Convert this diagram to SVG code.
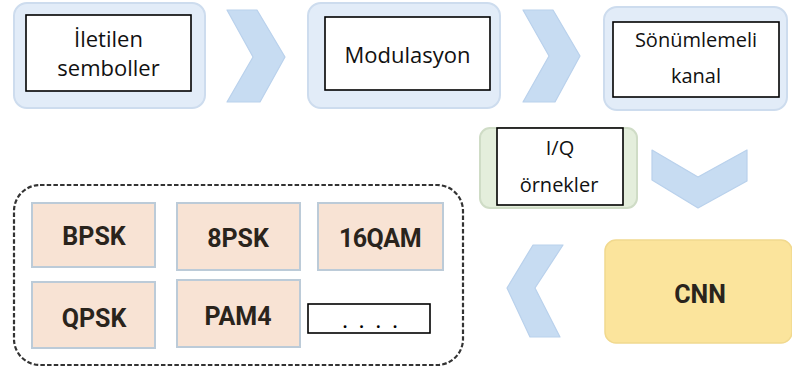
<svg xmlns="http://www.w3.org/2000/svg" width="792" height="372" viewBox="0 0 792 372">
  <style>
    .stage { fill: #e2ecf8; stroke: #cddcee; stroke-width: 2; }
    .stage-green { fill: #e4eedc; stroke: #cfdcc6; stroke-width: 2; }
    .label-box { fill: #ffffff; stroke: #000000; stroke-width: 1.6; }
    .label { font-family: "Open Sans", "Liberation Sans", sans-serif; fill: #111111; text-anchor: middle; }
    .chevron { fill: #c7dcf2; stroke: #b9d1ec; stroke-width: 1.2; stroke-linejoin: round; }
    .cls-box { fill: #f8e3d4; stroke: #bccbd8; stroke-width: 2; }
    .cls-text { font-family: Roboto, "Liberation Sans", sans-serif; font-weight: 700; font-size: 25px; fill: #2a241c; text-anchor: middle; }
    .group-frame { fill: none; stroke: #333333; stroke-width: 2.2; stroke-dasharray: 4.5 2.2; }
  </style>

  <rect width="792" height="372" fill="#ffffff"/>

  <!-- flow arrows between stages -->
  <g id="connectors">
    <polygon class="chevron" points="227,10 257,10 285,57 260,102 227,102 253,57"/>
    <polygon class="chevron" points="523,10 553,10 580,56 555,102 523,102 549,56"/>
    <polygon class="chevron" points="652,150 698,177 747,150 747,181 698,208 652,180"/>
    <polygon class="chevron" points="563,245 533,245 507,288 530,337 560,337 535,288"/>
  </g>

  <g id="symbols">
    <rect class="stage" x="14" y="3" width="191" height="105" rx="13"/>
    <rect class="label-box" x="26" y="15" width="165" height="76"/>
    <text class="label" x="108.5" y="47" font-size="22">İletilen</text>
    <text class="label" x="108.5" y="76" font-size="22">semboller</text>
  </g>

  <g id="modulation">
    <rect class="stage" x="308" y="3" width="192" height="105" rx="13"/>
    <rect class="label-box" x="325" y="17" width="165" height="73"/>
    <text class="label" x="407.5" y="63" font-size="22">Modulasyon</text>
  </g>

  <g id="channel">
    <rect class="stage" x="604" y="7" width="183" height="103" rx="13"/>
    <rect class="label-box" x="613" y="22" width="166" height="75"/>
    <text class="label" x="696" y="47" font-size="20">Sönümlemeli</text>
    <text class="label" x="696" y="83" font-size="20">kanal</text>
  </g>

  <g id="iq-samples">
    <rect class="stage-green" x="480" y="128" width="157" height="80" rx="10"/>
    <rect class="label-box" x="497" y="128" width="126" height="77"/>
    <text class="label" x="560" y="155" font-size="20">I/Q</text>
    <text class="label" x="559" y="192" font-size="20">örnekler</text>
  </g>

  <g id="cnn">
    <rect x="605" y="240" width="187" height="103" rx="11" fill="#fbe49c" stroke="#f1d98e" stroke-width="1.5"/>
    <text class="cls-text" x="700" y="303" font-size="24">CNN</text>
  </g>

  <g id="classes">
    <rect class="group-frame" x="14" y="185" width="449" height="180" rx="26"/>
    <g id="bpsk">
      <rect class="cls-box" x="32" y="203" width="123" height="64"/>
      <text class="cls-text" x="94" y="245">BPSK</text>
    </g>
    <g id="psk8">
      <rect class="cls-box" x="177" y="203" width="123" height="67"/>
      <text class="cls-text" x="238" y="247">8PSK</text>
    </g>
    <g id="qam16">
      <rect class="cls-box" x="318" y="203" width="125" height="67"/>
      <text class="cls-text" x="380" y="247" letter-spacing="-0.5">16QAM</text>
    </g>
    <g id="qpsk">
      <rect class="cls-box" x="32" y="282" width="123" height="66"/>
      <text class="cls-text" x="94" y="327">QPSK</text>
    </g>
    <g id="pam4">
      <rect class="cls-box" x="177" y="280" width="123" height="67"/>
      <text class="cls-text" x="238" y="325">PAM4</text>
    </g>
    <g id="more">
      <rect class="label-box" x="308" y="304" width="122" height="29" stroke-width="2"/>
      <text x="372" y="328" font-family="Open Sans, Liberation Sans, sans-serif" font-size="16" font-weight="700" letter-spacing="4" fill="#000000" text-anchor="middle">. . . .</text>
    </g>
  </g>
</svg>
